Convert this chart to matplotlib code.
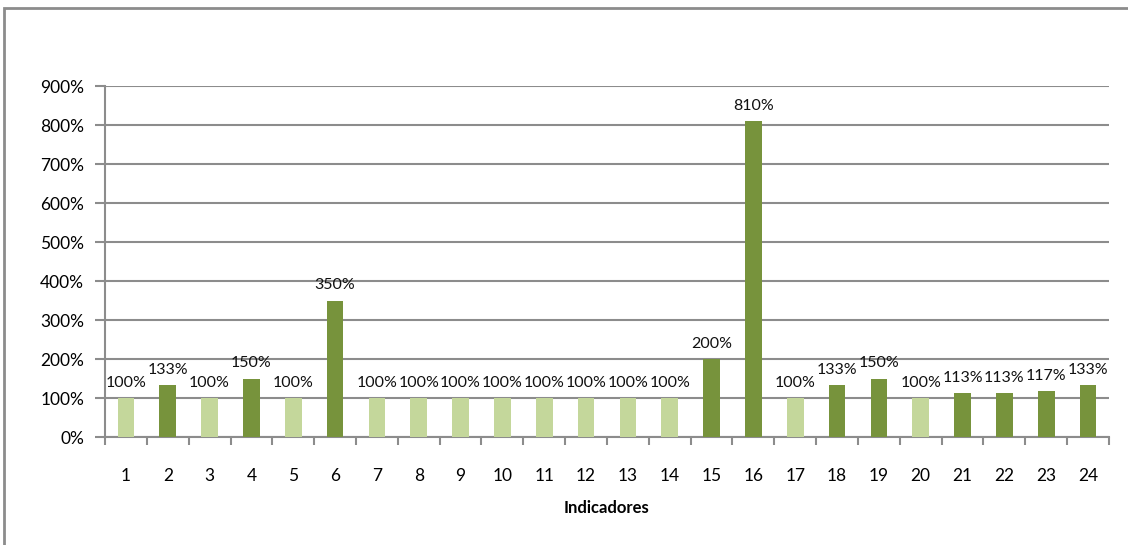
import matplotlib.pyplot as plt
from matplotlib.patches import Rectangle
from matplotlib.ticker import FixedLocator, PercentFormatter

plt.rcParams['font.family'] = ['Lato', 'DejaVu Sans']

indicadores = list(range(1, 25))
valores = [100, 133, 100, 150, 100, 350, 100, 100, 100, 100, 100, 100,
           100, 100, 200, 810, 100, 133, 150, 100, 113, 113, 117, 133]

LIGHT = '#C4D79B'
DARK = '#77933C'
GRID = '#8C8C8C'

fig = plt.figure(figsize=(11.28, 5.45), dpi=100)
ax = fig.add_axes([0.0931, 0.198, 0.8900, 0.644])

colors = [LIGHT if v <= 100 else DARK for v in valores]
bars = ax.bar(indicadores, valores, width=0.4, color=colors, zorder=3)

for b, v in zip(bars, valores):
    ax.annotate(f'{v}%', (b.get_x() + b.get_width() / 2, v),
                xytext=(0, 6), textcoords='offset points',
                ha='center', va='bottom', fontsize=11.5, color='#111111')

ax.set_xlim(0.5, 24.5)
ax.set_ylim(0, 900)
ax.set_yticks(range(0, 901, 100))
ax.yaxis.set_major_formatter(PercentFormatter(decimals=0))
ax.yaxis.grid(True, color=GRID, lw=1.5, zorder=0)

ax.set_xticks(indicadores)
ax.tick_params(axis='x', length=0, pad=22, labelsize=12.5)
ax.xaxis.set_minor_locator(FixedLocator([i + 0.5 for i in range(0, 25)]))
ax.tick_params(axis='x', which='minor', direction='out', length=6,
               width=1.5, color=GRID)
ax.tick_params(axis='y', direction='out', length=7, width=1.5,
               color=GRID, labelsize=12.5, pad=8)

for side in ['top', 'right']:
    ax.spines[side].set_visible(False)
for side in ['left', 'bottom']:
    ax.spines[side].set_color(GRID)
    ax.spines[side].set_linewidth(1.5)

ax.set_xlabel('Indicadores', fontsize=12, fontweight='bold', labelpad=12)

# outer chart frame
frame = Rectangle((4 / 1128, -0.1), 1.2, (537 / 545) + 0.1,
                  transform=fig.transFigure, fill=False,
                  edgecolor='#8C8C8C', lw=2, clip_on=False)
fig.patches.append(frame)

fig.savefig('out.png', dpi=100)
